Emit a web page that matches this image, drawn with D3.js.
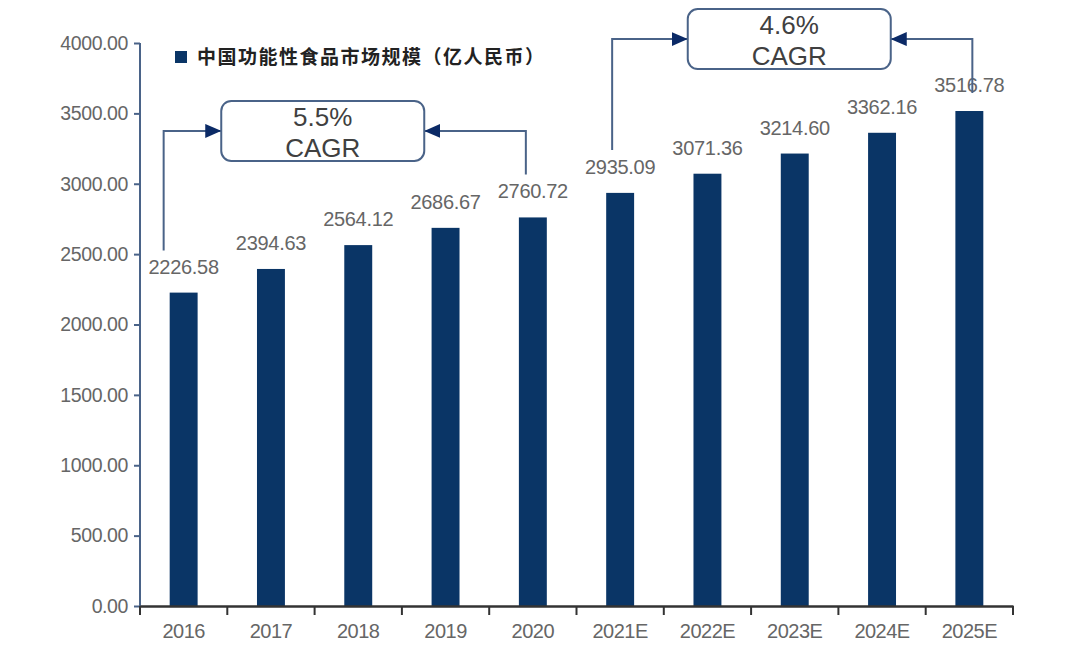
<!DOCTYPE html>
<html>
<head>
<meta charset="utf-8">
<script src="https://cdn.jsdelivr.net/npm/d3@7"></script>
<style>
  body { margin: 0; background: #fff; }
  svg { display: block; font-family: "Liberation Sans", Arial, sans-serif; }
</style>
</head>
<body>
<div id="chart"></div>
<script>
/**
 * DATA
 * */
const years = ["2016", "2017", "2018", "2019", "2020", "2021E", "2022E", "2023E", "2024E", "2025E"];
const marketSize = [2226.58, 2394.63, 2564.12, 2686.67, 2760.72, 2935.09, 3071.36, 3214.60, 3362.16, 3516.78];
const yTicks = [0, 500, 1000, 1500, 2000, 2500, 3000, 3500, 4000];
const seriesName = "中国功能性食品市场规模（亿人民币）";
const cagrRates = ["5.5%", "4.6%"];
const cagrFrom = ["2016", "2021E"];
const cagrTo = ["2020", "2025E"];
const cagrLevel = [3375, 4028]; // value level of the connector line

/**
 * CONSTANTS
 * */
const width = 1080,
  height = 658,
  margin = { top: 43, bottom: 52, left: 140, right: 67 };

const barColor = "#0a3566",
  lineColor = "#4a6388",
  headColor = "#0b2a66",
  textColor = "#666666";

// per-annotation tweaks (pixel offsets)
const annoStyle = [
  { fromDx: -20, toDx: -7, fromGap: 42, toGap: 43, boxDx: -22 },
  { fromDx: -8, toDx: 3, fromGap: 43, toGap: 18, boxDx: -3 }
];

const svg = d3.select("#chart")
  .append("svg")
  .attr("width", width)
  .attr("height", height);

// SCALES
const xScale = d3.scaleBand()
  .domain(years)
  .range([margin.left, width - margin.right])
  .paddingInner(0.68)
  .paddingOuter(0.34);

const yScale = d3.scaleLinear()
  .domain([0, 4000])
  .range([height - margin.bottom, margin.top]);

const step = xScale.step();
const center = d => xScale(d) + xScale.bandwidth() / 2;

// Y AXIS
const yAxis = svg.append("g")
  .attr("transform", `translate(${margin.left},0)`)
  .call(d3.axisLeft(yScale).tickValues(yTicks).tickFormat(d3.format(".2f")).tickSize(6).tickPadding(6));
yAxis.select(".domain").attr("stroke", lineColor).attr("stroke-width", 2)
  .attr("d", `M0,${yScale(4000)}V${yScale(0)}`);
yAxis.selectAll(".tick line").attr("stroke", lineColor).attr("stroke-width", 2);
yAxis.selectAll(".tick text")
  .attr("fill", textColor)
  .attr("font-size", 19.5)
  .attr("letter-spacing", -0.4)
  .attr("font-family", "Liberation Sans, Arial, sans-serif");

// BARS
svg.selectAll(".bar")
  .data(years)
  .join("rect")
  .attr("class", "bar")
  .attr("x", d => xScale(d))
  .attr("width", xScale.bandwidth())
  .attr("y", (d, i) => yScale(marketSize[i]))
  .attr("height", (d, i) => yScale(0) - yScale(marketSize[i]))
  .attr("fill", barColor);

// X AXIS
const xAxis = svg.append("g")
  .attr("transform", `translate(0,${yScale(0)})`)
  .call(d3.axisBottom(xScale).tickSize(0).tickPadding(18));
xAxis.select(".domain").attr("stroke", "#333").attr("stroke-width", 2.5);
xAxis.selectAll(".tick text")
  .attr("fill", textColor)
  .attr("font-size", 20)
  .attr("letter-spacing", -0.5)
  .attr("font-family", "Liberation Sans, Arial, sans-serif");

// boundary ticks between categories
const bounds = years.map(d => xScale(d) - step * 0.34).concat([xScale(years[years.length - 1]) + xScale.bandwidth() + step * 0.34]);
xAxis.selectAll(".btick")
  .data(bounds)
  .join("line")
  .attr("class", "btick")
  .attr("x1", d => d).attr("x2", d => d)
  .attr("y1", 0).attr("y2", 9)
  .attr("stroke", "#333")
  .attr("stroke-width", 2);

// VALUE LABELS
svg.selectAll(".val")
  .data(years)
  .join("text")
  .attr("class", "val")
  .attr("x", d => center(d))
  .attr("y", (d, i) => yScale(marketSize[i]) - 19)
  .attr("text-anchor", "middle")
  .attr("fill", textColor)
  .attr("font-size", 20)
  .attr("letter-spacing", -0.3)
  .text((d, i) => d3.format(".2f")(marketSize[i]));

// LEGEND
const legend = svg.append("g").attr("transform", `translate(175,57)`);
legend.append("rect")
  .attr("x", 0).attr("y", -6)
  .attr("width", 12).attr("height", 12)
  .attr("fill", barColor);
legend.append("text")
  .attr("x", 22).attr("y", 7)
  .attr("font-family", "Noto Sans CJK SC, sans-serif")
  .attr("font-weight", "bold")
  .attr("font-size", 19)
  .attr("letter-spacing", 1.5)
  .attr("fill", "#222")
  .text(seriesName);

// CAGR ANNOTATIONS
const defs = svg.append("defs");
defs.append("marker")
  .attr("id", "head")
  .attr("viewBox", "0 0 16 14")
  .attr("refX", 16).attr("refY", 7)
  .attr("markerWidth", 16).attr("markerHeight", 14)
  .attr("markerUnits", "userSpaceOnUse")
  .attr("orient", "auto")
  .append("path")
  .attr("d", "M0,0L16,7L0,14Z")
  .attr("fill", headColor);

const boxW = 203, boxH = 60;

cagrRates.forEach((rate, i) => {
  const st = annoStyle[i];
  const fi = years.indexOf(cagrFrom[i]);
  const ti = years.indexOf(cagrTo[i]);
  const x1 = center(cagrFrom[i]) + st.fromDx;
  const x2 = center(cagrTo[i]) + st.toDx;
  const yl = yScale(cagrLevel[i]);
  const y1 = yScale(marketSize[fi]) - st.fromGap;
  const y2 = yScale(marketSize[ti]) - st.toGap;
  const bx = (x1 + x2) / 2 + st.boxDx - boxW / 2;
  const g = svg.append("g");

  g.append("path")
    .attr("d", `M${x1},${y1}V${yl}H${bx}`)
    .attr("fill", "none")
    .attr("stroke", lineColor)
    .attr("stroke-width", 2)
    .attr("marker-end", "url(#head)");
  g.append("path")
    .attr("d", `M${x2},${y2}V${yl}H${bx + boxW}`)
    .attr("fill", "none")
    .attr("stroke", lineColor)
    .attr("stroke-width", 2)
    .attr("marker-end", "url(#head)");

  g.append("rect")
    .attr("x", bx).attr("y", yl - boxH / 2)
    .attr("width", boxW).attr("height", boxH)
    .attr("rx", 10).attr("ry", 10)
    .attr("fill", "#fff")
    .attr("stroke", lineColor)
    .attr("stroke-width", 2);
  g.append("text")
    .attr("x", bx + boxW / 2).attr("y", yl - 5)
    .attr("text-anchor", "middle")
    .attr("font-size", 26)
    .attr("fill", "#404040")
    .text(rate);
  g.append("text")
    .attr("x", bx + boxW / 2).attr("y", yl + 26)
    .attr("text-anchor", "middle")
    .attr("font-size", 26)
    .attr("fill", "#404040")
    .text("CAGR");
});
</script>
</body>
</html>
